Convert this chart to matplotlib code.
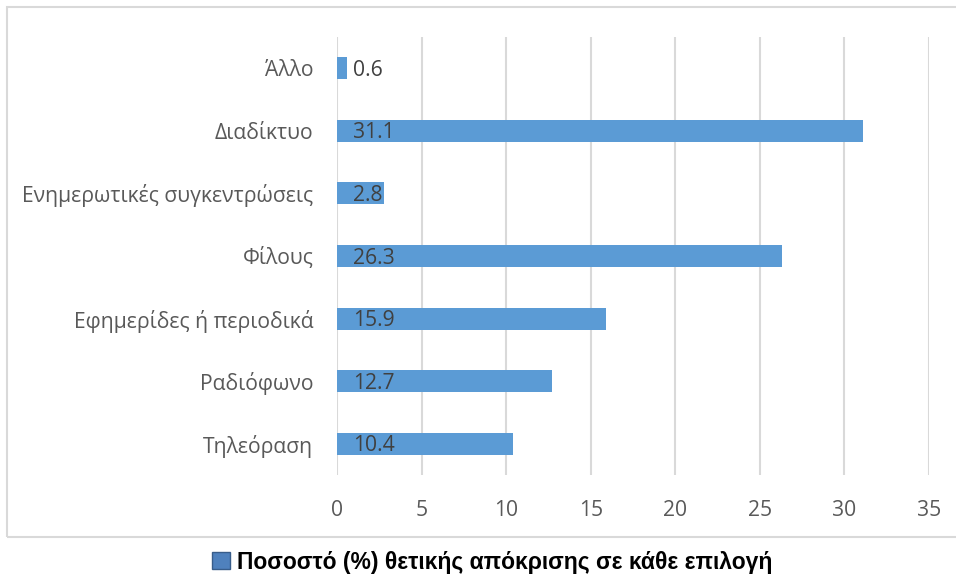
import matplotlib.pyplot as plt
from matplotlib.patches import Rectangle, Patch

# Κατηγορίες και ποσοστά (από κάτω προς τα πάνω)
categories = ['Τηλεόραση', 'Ραδιόφωνο', 'Εφημερίδες ή περιοδικά', 'Φίλους',
              'Ενημερωτικές συγκεντρώσεις', 'Διαδίκτυο', 'Άλλο']
values = [10.4, 12.7, 15.9, 26.3, 2.8, 31.1, 0.6]
x_ticks = [0, 5, 10, 15, 20, 25, 30, 35]
legend_label = 'Ποσοστό (%) θετικής απόκρισης σε κάθε επιλογή'

bar_color = '#5B9BD5'
text_color = '#595959'
grid_color = '#D9D9D9'

plt.rcParams['font.family'] = ['Open Sans', 'DejaVu Sans']

fig = plt.figure(figsize=(9.56, 5.79), dpi=100)
W, H = 956, 579
ax = fig.add_axes([337 / W, 1 - 475 / H, (929 - 337) / W, (475 - 37) / H])

y = list(range(len(categories)))
ax.barh(y, values, height=0.35, color=bar_color, zorder=3)
ax.set_xlim(0, 35)
ax.set_ylim(-0.5, len(categories) - 0.5)
ax.set_xticks(x_ticks)
ax.set_yticks(y)
ax.set_yticklabels(categories)
ax.tick_params(axis='both', length=0, colors=text_color, labelsize=15.2)
ax.tick_params(axis='x', pad=18)
ax.tick_params(axis='y', pad=17)
ax.grid(axis='x', color=grid_color, linewidth=1.5, zorder=0)
for s in ax.spines.values():
    s.set_visible(False)

# Ετικέτες τιμών στη βάση της μπάρας
for yi, v in zip(y, values):
    ax.annotate(f'{v}', xy=(0, yi), xytext=(16, -2), textcoords='offset pixels',
                ha='left', va='center', fontsize=15.2, color='#404040', zorder=4)

# Πλαίσιο γραφήματος (η δεξιά πλευρά κόβεται)
fig.patches.append(Rectangle((7 / W, 1 - 537 / H), (970 - 7) / W, (537 - 7) / H,
                             transform=fig.transFigure, fill=False,
                             edgecolor=grid_color, linewidth=1.5))

fig.legend(handles=[Patch(facecolor='#4F81BD', edgecolor='#385D8A', label=legend_label)],
           loc='center', bbox_to_anchor=(492 / W, 1 - 562 / H), frameon=False,
           handlelength=0.8, handleheight=0.8, handletextpad=0.3,
           prop={'family': ['Liberation Sans', 'DejaVu Sans'], 'weight': 'bold', 'size': 16.5})

fig.savefig('out.png', dpi=100)
